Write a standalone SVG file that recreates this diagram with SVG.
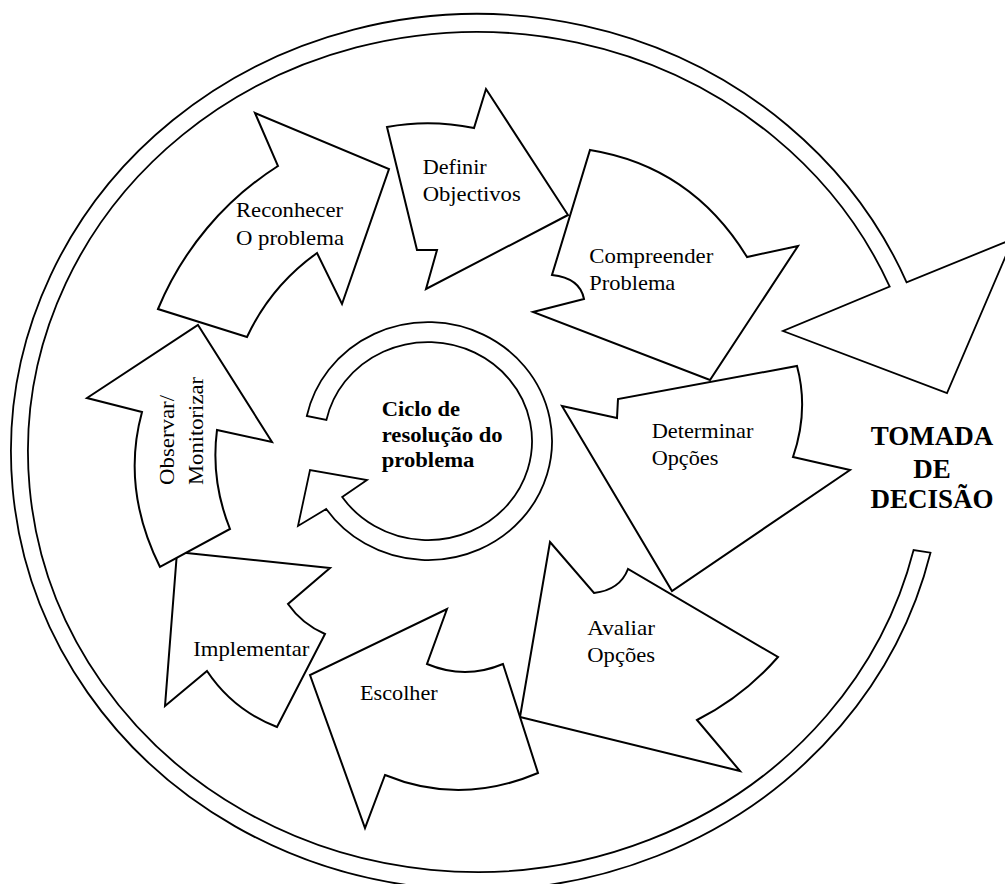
<svg xmlns="http://www.w3.org/2000/svg" width="1005" height="884" viewBox="0 0 1005 884">
<style>
.sh{fill:#fff;stroke:#000;stroke-width:2;stroke-linejoin:miter}
.ring{fill:#fff;stroke:#000;stroke-width:1.8}
.lb{font-family:"Liberation Serif","Times New Roman",serif;font-size:21px;fill:#000}
.bd{font-family:"Liberation Serif","Times New Roman",serif;font-size:22px;font-weight:bold;fill:#000}
.big{font-family:"Liberation Serif","Times New Roman",serif;font-size:27px;font-weight:bold;fill:#000;text-anchor:middle}
</style>
<rect width="1005" height="884" fill="#fff"/>
<g id="connectors">
<path id="decision-ring" class="ring" d="M930.5,552.7 A466,438 0 1 1 906.6,282.3 L1013,239 L947,393 L783,331 L889.7,286.6 A449,420 0 1 0 913.6,550 Z"/>
<path id="cycle-ring" class="ring" d="M306.8,416 A124,119 0 1 1 326.2,509 L298,526 L310,470 L367,480 L342.2,497 A104,99 0 1 0 326.4,420 Z"/>
</g>
<g id="implementar">
<path class="sh" d="M177,552 L330,568 L288,604 Q302,624 325,634 L277,727 Q233,710 207,671 L165,706 Z"/>
<text class="lb" x="193.3" y="656" textLength="116" lengthAdjust="spacingAndGlyphs">Implementar</text>
</g>
<g id="observar">
<path class="sh" d="M198,325 L272,442 L217,430 Q210.5,480.5 230,529 L160,567 Q121,488.5 142,412 L87,398 Z"/>
<text class="lb" x="174.3" y="485" transform="rotate(-90 174.3 485)" textLength="90" lengthAdjust="spacingAndGlyphs">Observar/</text>
<text class="lb" x="202.5" y="485" transform="rotate(-90 202.5 485)" textLength="108" lengthAdjust="spacingAndGlyphs">Monitorizar</text>
</g>
<g id="reconhecer">
<path class="sh" d="M255,113 L278,166 A310,310 0 0 0 158,309 L247,337 A215,215 0 0 1 317,253 L342,304 L389,169 Z"/>
<text class="lb" x="236" y="216.7" textLength="107" lengthAdjust="spacingAndGlyphs">Reconhecer</text>
<text class="lb" x="236" y="244.5" textLength="108" lengthAdjust="spacingAndGlyphs">O problema</text>
</g>
<g id="definir">
<path class="sh" d="M387,127 Q430,119 474,128 L486,89 L568,215 L426,289 L437,250 L417,250 Z"/>
<text class="lb" x="422.7" y="174" textLength="64" lengthAdjust="spacingAndGlyphs">Definir</text>
<text class="lb" x="422.7" y="200.7" textLength="98" lengthAdjust="spacingAndGlyphs">Objectivos</text>
</g>
<g id="compreender">
<path class="sh" d="M590,150 Q691.5,166.5 747,257 L798,246 L710,380 L533,312 L584,299 Q580,278 552,275 Z"/>
<text class="lb" x="589.3" y="263.3" textLength="124" lengthAdjust="spacingAndGlyphs">Compreender</text>
<text class="lb" x="589.3" y="290" textLength="86" lengthAdjust="spacingAndGlyphs">Problema</text>
</g>
<g id="determinar">
<path class="sh" d="M562,406 L617,418 L618,399 L797,366 Q809,410.5 793,457 L850,470 L672,591 Z"/>
<text class="lb" x="651.7" y="438.3" textLength="101.7" lengthAdjust="spacingAndGlyphs">Determinar</text>
<text class="lb" x="651.7" y="465" textLength="66.7" lengthAdjust="spacingAndGlyphs">Opções</text>
</g>
<g id="avaliar">
<path class="sh" d="M550,542 L594,593 Q620,590 628,569 L778,657 Q743.6,696.4 697,720 L740,771 L520,717 Z"/>
<text class="lb" x="587.3" y="635" textLength="67.7" lengthAdjust="spacingAndGlyphs">Avaliar</text>
<text class="lb" x="587.3" y="661.7" textLength="67.7" lengthAdjust="spacingAndGlyphs">Opções</text>
</g>
<g id="escolher">
<path class="sh" d="M447,609 L427,664 Q465,680 503,664 L538,773 Q460,806 385,775 L365,828 L310,675 Z"/>
<text class="lb" x="360" y="700" textLength="77.7" lengthAdjust="spacingAndGlyphs">Escolher</text>
</g>
<g id="cycle-label">
<text class="bd" x="381.7" y="416" textLength="78.3" lengthAdjust="spacingAndGlyphs">Ciclo de</text>
<text class="bd" x="381.7" y="441.7" textLength="121" lengthAdjust="spacingAndGlyphs">resolução do</text>
<text class="bd" x="381.7" y="466.7" textLength="92.7" lengthAdjust="spacingAndGlyphs">problema</text>
</g>
<g id="decision-label">
<text class="big" x="932" y="445">TOMADA</text>
<text class="big" x="932" y="478">DE</text>
<text class="big" x="932" y="508">DECISÃO</text>
</g>
</svg>
